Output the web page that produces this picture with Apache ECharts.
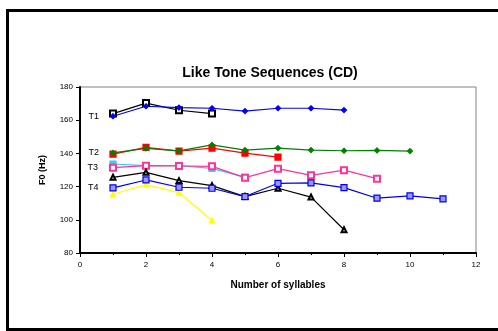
<!DOCTYPE html>
<html>
<head>
<meta charset="utf-8">
<script src="https://cdn.jsdelivr.net/npm/echarts@6/dist/echarts.min.js"></script>
<style>
html, body { margin: 0; padding: 0; background: #fff; }
#chart { width: 498px; height: 331px; }
</style>
</head>
<body>
<div id="chart"></div>
<script>
// F0 values (Hz) by number of syllables
var syllables = [1, 2, 3, 4, 5, 6, 7, 8, 9, 10, 11];
var t1Blue   = [162.4, 168.4, 167.6, 167.2, 165.5, 167.2, 167.2, 166.1];
var t1Black  = [164.0, 170.3, 166.0, 164.0];
var t2Green  = [140.3, 143.0, 141.5, 145.1, 142.0, 143.2, 142.0, 141.6, 141.8, 141.4];
var t2Red    = [139.6, 143.6, 141.4, 143.2, 140.2, 137.8];
var t3Cyan   = [133.6, 132.6, 132.6, 131.0, 125.6];
var t3Pink   = [131.4, 132.6, 132.4, 132.2, 125.4, 130.8, 126.8, 129.9, 124.8];
var t4Black  = [125.6, 128.6, 123.6, 120.6, 114.0, 119.0, 113.7, 94.0];
var t4Blue   = [119.2, 124.0, 119.6, 119.0, 114.0, 122.0, 122.2, 119.4, 113.0, 114.4, 112.6];
var t4Yellow = [115.4, 121.2, 116.4, 99.6];

var yTicks = [80, 100, 120, 140, 160, 180];
var xTicks = [0, 2, 4, 6, 8, 10, 12];

function pts(vals, tag) {
    var out = vals.map(function (v, i) { return [syllables[i], v]; });
    if (tag) {
        out[0] = {
            value: out[0],
            label: {
                show: true, formatter: tag, position: 'left', distance: 11,
                color: '#000', fontSize: 9, fontFamily: 'Liberation Sans'
            }
        };
    }
    return out;
}

function line(name, vals, color, symbol, size, fill, tag) {
    return {
        name: name,
        type: 'line',
        data: pts(vals, tag),
        symbol: symbol,
        symbolSize: size,
        showAllSymbol: true,
        lineStyle: { color: color, width: 1.2 },
        itemStyle: { color: fill || color, borderColor: color, borderWidth: 1.2 }
    };
}

var chart = echarts.init(document.getElementById('chart'));
var option = {
    animation: false,
    backgroundColor: '#fff',
    title: {
        text: 'Like Tone Sequences (CD)',
        left: 265,
        top: 61,
        textAlign: 'center',
        textStyle: { fontSize: 14, fontWeight: 'bold', color: '#000', fontFamily: 'Liberation Sans' }
    },
    graphic: [{
        // outer frame, open on the right like the source
        type: 'polyline',
        shape: { points: [[600, 10.5], [7.5, 10.5], [7.5, 329.5], [600, 329.5]] },
        style: { fill: 'none', stroke: '#000', lineWidth: 3 },
        silent: true
    }],
    grid: {
        left: 80, top: 87, right: 22, bottom: 78,
        show: true, borderColor: '#808080', borderWidth: 1, backgroundColor: '#fff'
    },
    xAxis: {
        type: 'value',
        min: xTicks[0], max: xTicks[xTicks.length - 1], interval: 2,
        name: 'Number of syllables',
        nameLocation: 'middle',
        nameGap: 27,
        nameTextStyle: { fontSize: 10, fontWeight: 'bold', color: '#000', fontFamily: 'Liberation Sans' },
        axisLine: { lineStyle: { color: '#000', width: 2 } },
        axisTick: { length: 4, lineStyle: { color: '#000' } },
        minorTick: { show: true, splitNumber: 2, length: 2, lineStyle: { color: '#000' } },
        axisLabel: { fontSize: 8, color: '#000', margin: 8, fontFamily: 'Liberation Sans' },
        splitLine: { show: false }
    },
    yAxis: {
        type: 'value',
        min: yTicks[0], max: yTicks[yTicks.length - 1], interval: 20,
        name: 'F0 (Hz)',
        nameLocation: 'middle',
        nameGap: 33,
        nameTextStyle: { fontSize: 9, fontWeight: 'bold', color: '#000', fontFamily: 'Liberation Sans' },
        axisLine: { show: true, lineStyle: { color: '#000', width: 2 } },
        axisTick: { show: true, length: 4, lineStyle: { color: '#000' } },
        axisLabel: { fontSize: 8, color: '#000', margin: 7, fontFamily: 'Liberation Sans' },
        splitLine: { show: false }
    },
    series: [
        line('T1 black', t1Black, '#000000', 'emptyRect', 6),
        line('T1 blue', t1Blue, '#0000FF', 'diamond', 5, null, 'T1'),
        line('T2 red', t2Red, '#FF0000', 'rect', 6),
        line('T2 green', t2Green, '#008000', 'diamond', 5, null, 'T2'),
        line('T3 cyan', t3Cyan, '#33CCFF', 'rect', 6),
        line('T3 pink', t3Pink, '#FF3399', 'emptyRect', 6, null, 'T3'),
        line('T4 yellow', t4Yellow, '#FFFF00', 'triangle', 5),
        line('T4 black', t4Black, '#000000', 'emptyTriangle', 5),
        line('T4 blue', t4Blue, '#0000EE', 'rect', 6, '#9999FF', 'T4')
    ]
};
chart.setOption(option);
</script>
</body>
</html>
